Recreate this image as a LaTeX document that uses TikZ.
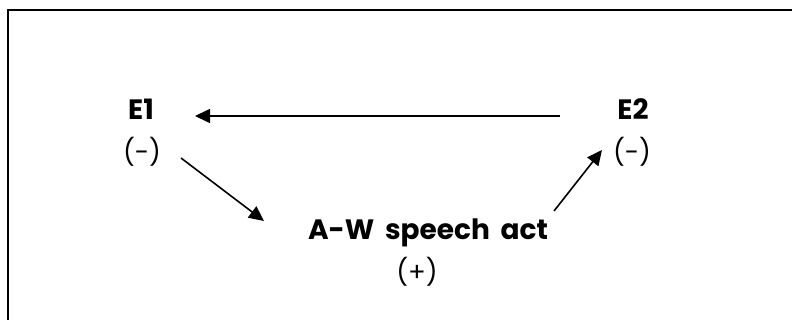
\documentclass[tikz,border=0pt]{standalone}
\usepackage{fontspec}
\setmainfont{Poppins}
\usetikzlibrary{arrows.meta}
\tikzset{
  lbl/.style={inner sep=0pt, font=\fontsize{28}{30}\selectfont\bfseries},
  sgn/.style={inner sep=0pt, font=\fontsize{26}{28}\selectfont},
  conn/.style={line width=1.6pt, -{Triangle[length=15pt,width=14pt]}},
  frame/.style={line width=2pt}
}
\begin{document}
\begin{tikzpicture}[x=1pt,y=-1pt]
\useasboundingbox (0,0) rectangle (792,320);
\coordinate (fb) at (8,322);
\coordinate (ftl) at (8,10);
\coordinate (fr) at (794,10);
\draw[frame] (fb) -- (ftl) -- (fr);
\node[lbl, anchor=base] (E1) at (141,120) {E1};
\node[sgn] (E1s) at (142,152) {(-)};
\node[lbl, anchor=base] (E2) at (633,120) {E2};
\node[sgn] (E2s) at (632,152) {(-)};
\node[lbl, anchor=base] (AW) at (428,240) {A-W\, speech\, act};
\node[sgn] (AWs) at (417,272) {(+)};
\coordinate (h1) at (560,116);
\coordinate (h2) at (195,116);
\coordinate (d1) at (181,158);
\coordinate (d2) at (264,221);
\coordinate (u1) at (554,211);
\coordinate (u2) at (602,150);
\draw[conn] (h1) -- (h2);
\draw[conn] (d1) -- (d2);
\draw[conn] (u1) -- (u2);
\end{tikzpicture}
\end{document}
